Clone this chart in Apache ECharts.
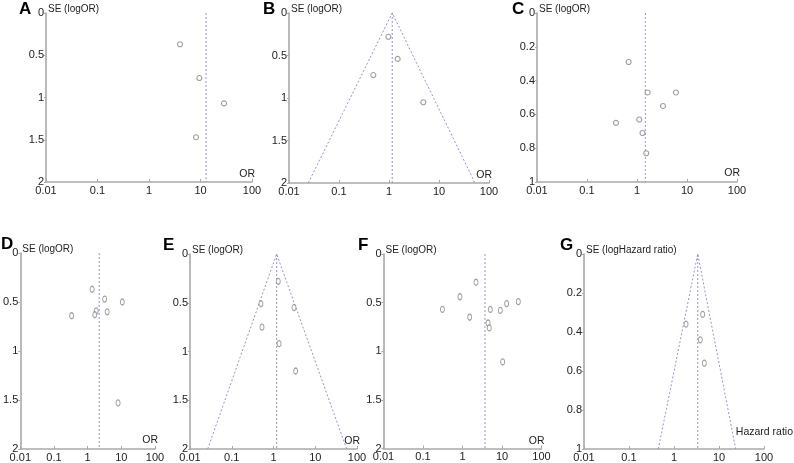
<!DOCTYPE html>
<html><head><meta charset="utf-8">
<script src="https://cdn.jsdelivr.net/npm/echarts@6/dist/echarts.min.js"></script>
<style>html,body{margin:0;padding:0;background:#fff}#c{width:794px;height:463px}</style>
</head><body><div id="c"></div>
<script>
// ---- data (OR / hazard ratio, SE) ----
const panelLetters = ['A','B','C','D','E','F','G'];
const xTickValues = [0.01, 0.1, 1, 10, 100];
const pointsA = [[4.0,0.37],[9.5,0.77],[28.6,1.07],[8.2,1.47]];
const pointsB = [[0.97,0.28],[1.49,0.54],[0.485,0.73],[4.86,1.05]];
const pointsC = [[0.68,0.29],[1.63,0.47],[6.0,0.47],[3.31,0.55],[1.11,0.63],[0.38,0.65],[1.29,0.71],[1.53,0.83]];
const pointsD = [[1.36,0.37],[3.2,0.47],[10.7,0.50],[1.8,0.59],[1.63,0.63],[3.8,0.60],[0.335,0.64],[8.0,1.53]];
const pointsE = [[1.30,0.28],[0.50,0.51],[3.1,0.55],[0.53,0.75],[1.36,0.92],[3.4,1.20]];
const pointsF = [[2.2,0.29],[0.86,0.44],[0.31,0.57],[1.52,0.65],[5.06,0.57],[9.06,0.58],[13.1,0.51],[25.9,0.49],[4.43,0.71],[4.76,0.76],[10.4,1.11]];
const pointsG = [[4.34,0.31],[1.85,0.36],[3.84,0.44],[4.72,0.56]];
const pooledEstimates = [12.8, 1.16, 1.47, 2.2, 1.19, 3.7, 3.37];
const seMax = [2, 2, 1, 2, 2, 2, 1];
const seInterval = [0.5, 0.5, 0.2, 0.5, 0.5, 0.5, 0.2];
const funnelLower = [null, 0.0243, null, null, 0.0265, null, 0.448];
const funnelUpper = [null, 52.5, null, null, 56.6, null, 23.5];
const yNames = ['SE (logOR)','SE (logOR)','SE (logOR)','SE (logOR)','SE (logOR)','SE (logOR)','SE (logHazard ratio)'];
const xNames = ['OR','OR','OR','OR','OR','OR','Hazard ratio'];
const allPoints = [pointsA, pointsB, pointsC, pointsD, pointsE, pointsF, pointsG];

// ---- layout (pixels) ----
const grids = [
  {left:46, top:13, width:206, height:169},
  {left:289, top:13, width:200, height:170},
  {left:537, top:13, width:200, height:169},
  {left:19, top:253, width:136, height:196},
  {left:190, top:254, width:167, height:195},
  {left:383.5, top:254, width:158, height:194.5},
  {left:584, top:254, width:180, height:195}
];
const letterPos = [[19,1],[263,1],[512,1],[1,236],[163,237],[358,237],[560,237]];
const xNameGap = [3,3,3,3,3,3,29];
const xNamePadBottom = [2,2,3,3,2,2,11];

const FONT = '"Liberation Sans", Arial, sans-serif';
const axisColor = '#a9a9a9';
const dashColor = '#9393d2';
const pointColor = '#888888';

const chart = echarts.init(document.getElementById('c'), null, {renderer:'canvas'});
const option = {
  animation:false,
  backgroundColor:'#fff',
  textStyle:{fontFamily:FONT},
  grid: grids.map(g => Object.assign({containLabel:false}, g)),
  xAxis: [], yAxis: [], series: [],
  graphic: panelLetters.map((L,i) => ({
    type:'text', left:letterPos[i][0], top:letterPos[i][1],
    style:{text:L, font:'bold 17px ' + FONT, fill:'#000'}
  }))
};
const fmtNum = v => String(Number(Number(v).toPrecision(3)));
for (let i = 0; i < 7; i++) {
  option.xAxis.push({
    type:'log', logBase:10, gridIndex:i, position:'bottom',
    min:xTickValues[0], max:xTickValues[xTickValues.length-1],
    name:xNames[i], nameLocation:'end', nameGap:xNameGap[i],
    nameTextStyle:{fontSize:10.5, color:'#222', align:'right', verticalAlign:'bottom', padding:[0,0,xNamePadBottom[i],0]},
    axisLine:{show:true, onZero:false, lineStyle:{color:axisColor, width:1.6}},
    axisTick:{show:true, inside:true, length:3, lineStyle:{color:axisColor}},
    axisLabel:{fontSize:11, color:'#222', margin:3, formatter:fmtNum},
    splitLine:{show:false}, minorTick:{show:false}
  });
  option.yAxis.push({
    type:'value', gridIndex:i, inverse:true, position:'left', min:0, max:seMax[i], interval:seInterval[i],
    name:yNames[i], nameLocation:'start', nameGap:-1,
    nameTextStyle:{fontSize:10, color:'#222', align:'left', verticalAlign:'bottom', padding:[0,0,0,2]},
    axisLine:{show:true, onZero:false, lineStyle:{color:axisColor, width:1.6}},
    axisTick:{show:true, inside:false, length:2, lineStyle:{color:axisColor}},
    axisLabel:{fontSize:11, color:'#222', margin:2, formatter:fmtNum},
    splitLine:{show:false}
  });
  option.series.push({
    type:'line', xAxisIndex:i, yAxisIndex:i, symbol:'none', silent:true,
    data:[[pooledEstimates[i],0],[pooledEstimates[i],seMax[i]]],
    lineStyle:{color:dashColor, width:1, type:[2,2]}, z:2
  });
  if (funnelLower[i] !== null) {
    option.series.push({
      type:'line', xAxisIndex:i, yAxisIndex:i, symbol:'none', silent:true,
      data:[[funnelLower[i],seMax[i]],[pooledEstimates[i],0],[funnelUpper[i],seMax[i]]],
      lineStyle:{color:dashColor, width:1, type:[2,2]}, z:2
    });
  }
  option.series.push({
    type:'scatter', xAxisIndex:i, yAxisIndex:i,
    symbol:'circle', symbolSize: i < 3 ? [5,5] : [4,6],
    itemStyle:{color:'#fff', borderColor:pointColor, borderWidth:1.1},
    data:allPoints[i], z:3
  });
}
chart.setOption(option);
</script>
</body></html>
